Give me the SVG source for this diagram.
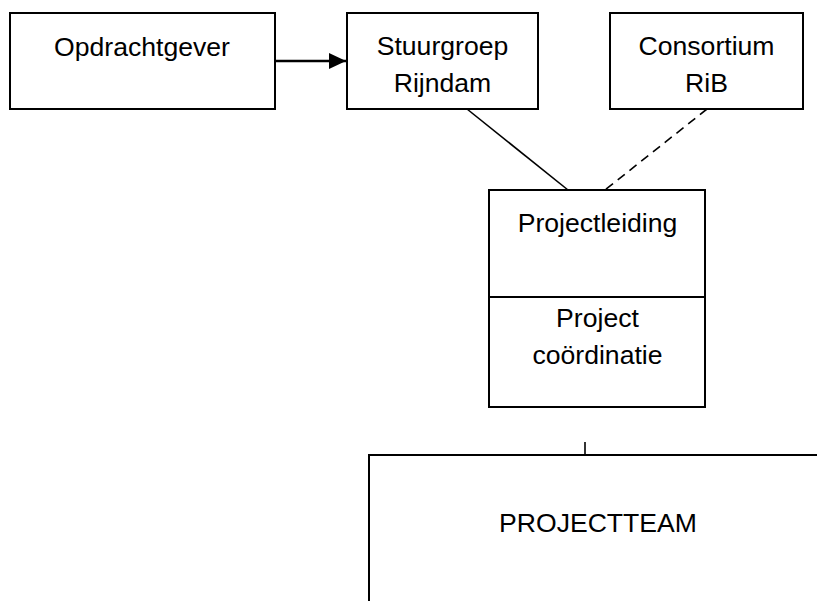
<svg xmlns="http://www.w3.org/2000/svg" width="817" height="601" viewBox="0 0 817 601">
  <style>
    .box { fill: #ffffff; stroke: #000000; stroke-width: 2; }
    .label { font-family: "Liberation Sans", Arial, sans-serif; font-size: 26.6px; fill: #000000; text-anchor: middle; }
    .link { fill: none; stroke: #000000; stroke-width: 1.6; }
    .dashed { stroke-dasharray: 9 6; }
    .flow { fill: none; stroke: #000000; stroke-width: 2.6; }
  </style>
  <defs>
    <marker id="arrowhead" markerUnits="userSpaceOnUse" markerWidth="18" markerHeight="16" refX="17" refY="8" orient="auto">
      <path d="M0,0 L17,8 L0,16 Z" fill="#000000"/>
    </marker>
  </defs>
  <rect x="0" y="0" width="817" height="601" fill="#ffffff"/>

  <!-- connectors -->
  <g id="connectors">
    <line class="flow" x1="276" y1="61" x2="346" y2="61" marker-end="url(#arrowhead)"/>
    <line class="link" x1="467" y1="109" x2="568" y2="190"/>
    <line class="link dashed" x1="707" y1="109" x2="605" y2="190"/>
    <line class="link" x1="585" y1="442" x2="585" y2="455"/>
  </g>

  <!-- nodes -->
  <g id="opdrachtgever">
    <rect class="box" x="10" y="13" width="265" height="96"/>
    <text class="label" x="142" y="56">Opdrachtgever</text>
  </g>
  <g id="stuurgroep">
    <rect class="box" x="347" y="13" width="191" height="96"/>
    <text class="label" x="442.5" y="55">Stuurgroep</text>
    <text class="label" x="442.5" y="92">Rijndam</text>
  </g>
  <g id="consortium">
    <rect class="box" x="610" y="13" width="193" height="96"/>
    <text class="label" x="706.5" y="55">Consortium</text>
    <text class="label" x="706.5" y="92">RiB</text>
  </g>
  <g id="projectleiding">
    <rect class="box" x="489" y="190" width="216" height="217"/>
    <line x1="489" y1="297" x2="705" y2="297" stroke="#000000" stroke-width="2"/>
    <text class="label" x="597.5" y="232">Projectleiding</text>
    <text class="label" x="597.5" y="327">Project</text>
    <text class="label" x="597.5" y="364">coördinatie</text>
  </g>
  <g id="projectteam">
    <rect class="box" x="369" y="455" width="500" height="200"/>
    <text class="label" x="598" y="532">PROJECTTEAM</text>
  </g>
</svg>
